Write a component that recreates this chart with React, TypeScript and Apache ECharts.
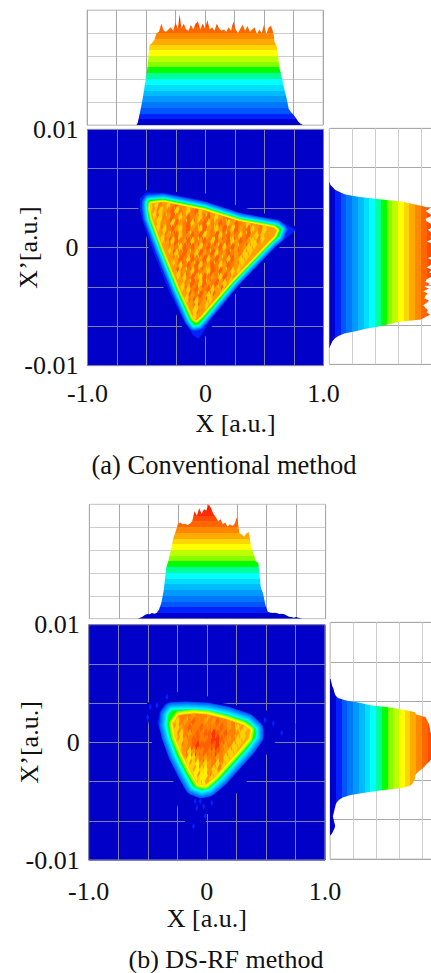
import React, { useEffect, useRef } from "react";
import * as echarts from "echarts";

const FONT = '"Liberation Serif"';
const HEAT_BG = "#0000c8";

const bandColors = ["#0000cc","#0022ff","#0055ff","#0077ff","#0099ff","#00bbff","#00ddff","#00ffff","#00ff99","#00ff00","#88ff00","#bbff00","#ffff00","#ffd500","#ffaa00","#ff8800","#ff6600","#ff4c00","#ff2a00","#ff1a00"];

const xTickValues = [-1, 0, 1];
const xTickLabels = ["-1.0", "0", "1.0"];
const yTickValues = [-0.01, 0, 0.01];
const yTickLabels = ["-0.01", "0", "0.01"];

// Top histogram, panel (a): [X, count %]
const histTopA = [[-0.58,0],[-0.57,2],[-0.55,11.6],[-0.53,21.7],[-0.51,34.8],[-0.49,48],[-0.47,69.6],[-0.45,71],[-0.43,74],[-0.41,80],[-0.39,81],[-0.37,88],[-0.35,82],[-0.33,81],[-0.31,83],[-0.29,85],[-0.27,82],[-0.25,89],[-0.23,84],[-0.215,96],[-0.2,84],[-0.18,88],[-0.16,83],[-0.14,82],[-0.12,87],[-0.1,83],[-0.08,88],[-0.06,90],[-0.04,83],[-0.02,88],[0,84],[0.02,91],[0.04,83],[0.06,85],[0.08,82],[0.1,88],[0.12,84],[0.14,82],[0.16,83],[0.18,81],[0.2,85],[0.22,82],[0.24,90],[0.26,83],[0.28,80],[0.3,84],[0.32,87],[0.34,82],[0.36,86],[0.38,81],[0.4,83],[0.42,85],[0.44,79],[0.46,83],[0.48,80],[0.5,87],[0.52,79],[0.54,85],[0.56,86],[0.58,80],[0.59,72],[0.61,68],[0.63,50],[0.65,42],[0.67,32],[0.69,24],[0.71,14],[0.73,11],[0.75,9],[0.77,6],[0.79,3],[0.81,1],[0.83,0]];

// Top histogram, panel (b)
const histTopB = [[-0.59,0],[-0.57,0.8],[-0.55,1.7],[-0.53,3.2],[-0.51,4],[-0.49,3.8],[-0.47,5],[-0.45,4.4],[-0.43,5],[-0.41,8],[-0.39,14],[-0.37,25],[-0.35,44],[-0.33,51],[-0.31,60],[-0.29,70],[-0.27,76],[-0.25,83],[-0.23,84],[-0.21,82.5],[-0.19,83],[-0.17,82],[-0.15,83],[-0.13,85],[-0.11,94],[-0.09,90],[-0.07,96.5],[-0.05,91.5],[-0.03,95.6],[-0.01,94.5],[0.01,100],[0.03,96.5],[0.05,91.5],[0.07,89],[0.09,85],[0.11,87],[0.13,82.5],[0.15,84],[0.17,80.5],[0.19,82.5],[0.21,81],[0.23,83],[0.25,89],[0.27,75],[0.29,73.7],[0.31,71.7],[0.33,74.6],[0.35,75.5],[0.37,62],[0.39,57],[0.41,50],[0.43,49],[0.45,28],[0.47,22],[0.49,12],[0.51,6],[0.53,5.5],[0.55,5],[0.57,5.2],[0.59,4.7],[0.61,4],[0.63,4.4],[0.65,3.8],[0.67,2.9],[0.69,1.7],[0.71,1.5],[0.73,0.9],[0.75,1.5],[0.77,0.9],[0.79,0.3],[0.8,0]];

// Right histograms: rows 0 (X' = +0.01) to 100 (X' = -0.01), first row then values
const rightARowStart = 23;
const histRightA = [0.5,1,3,5,9,14,25,42,63,72,82,88,84,87,90,85,84,87,91,90,86,89,92,88,90,85,91,92,89,90,93,91,86,90,92,88,85,90,87,91,89,85,84,88,83,87,82,86,84,83,87,85,82,84,86,85,88,84,80,62,52,43,31,23,13,8,5,3,2,1,0.3];
const rightBRowStart = 24;
const histRightB = [0.5,1,1.5,2,3,3.5,4,5,7,14,26,35,53,65,74,75,83,84,85,86,86.5,87,87,88,89,90,91,90,92,91,90,92,91,89,88,86,84,82,80,77,75,74,74,73,72,70,63,45,30,18,11,8,6,5,4.5,4,3.5,3,2.5,3,3.5,4,4.5,4,3,2,0.5];

// Contours of the phase-space density: [X, X']
const maskA = [[-0.525,0.00486],[-0.246,0.00469],[0,0.00458],[0.254,0.00359],[0.5,0.00288],[0.774,0.00175],[0.633,0.00006],[0.294,-0.00339],[0.054,-0.00667],[-0.003,-0.00757],[-0.073,-0.00785],[-0.201,-0.00667],[-0.356,-0.00339],[-0.483,-0.00003],[-0.497,0.00076],[-0.568,0.00331]];
const hullA = [[-0.503,0.00466],[-0.356,0.00463],[-0.017,0.00395],[0.294,0.00288],[0.605,0.00232],[0.768,0.00153],[0.718,0.00105],[0.605,0.0002],[0.294,-0.00305],[0.04,-0.00616],[-0.031,-0.00734],[-0.059,-0.00771],[-0.102,-0.00743],[-0.186,-0.00616],[-0.299,-0.0039],[-0.441,-0.00037],[-0.54,0.00246],[-0.559,0.00345],[-0.554,0.00415]];
const edgeA = [[-0.48,0.00401],[-0.356,0.0041],[-0.017,0.00342],[0.294,0.00243],[0.605,0.00186],[0.644,0.00153],[0.619,0.0009],[0.562,0.00042],[0.243,-0.00291],[-0.023,-0.0061],[-0.059,-0.0065],[-0.096,-0.00658],[-0.13,-0.00616],[-0.243,-0.00362],[-0.379,-0.00023],[-0.48,0.00246],[-0.492,0.00331],[-0.492,0.00379]];
const innerA = [[-0.463,0.00373],[-0.356,0.00384],[-0.017,0.00316],[0.294,0.0022],[0.576,0.00169],[0.605,0.00147],[0.582,0.00096],[0.534,0.00048],[0.223,-0.00277],[-0.04,-0.00582],[-0.079,-0.00616],[-0.102,-0.00602],[-0.22,-0.00347],[-0.356,-0.00014],[-0.452,0.00246],[-0.469,0.00331]];

const maskB = [[-0.507,0.00335],[-0.248,0.00428],[0,0.00394],[0.127,0.00335],[0.251,0.00315],[0.501,0.00273],[0.749,0.00161],[0.749,0.0011],[0.577,0],[0.493,-0.00121],[0.338,-0.00332],[0.254,-0.00431],[0.042,-0.006],[-0.008,-0.00611],[-0.008,-0.00679],[-0.183,-0.00679],[-0.248,-0.00552],[-0.282,-0.00332],[-0.465,0],[-0.501,0.00211]];
const hullB = [[-0.352,0.0033],[-0.197,0.00349],[0,0.00335],[0.197,0.00301],[0.38,0.00217],[0.473,0.00118],[0.451,0.00034],[0.366,-0.00107],[0.254,-0.00234],[0.141,-0.00361],[0.028,-0.00459],[-0.056,-0.00473],[-0.141,-0.00445],[-0.211,-0.00332],[-0.296,-0.00163],[-0.38,0.00048],[-0.417,0.00161],[-0.4,0.00259]];
const edgeB = [[-0.296,0.00268],[-0.169,0.00273],[0,0.00265],[0.169,0.00231],[0.338,0.00175],[0.408,0.0011],[0.408,0.00048],[0.338,-0.00051],[0.225,-0.00177],[0.113,-0.00304],[0.014,-0.00389],[-0.042,-0.00403],[-0.113,-0.00375],[-0.169,-0.00276],[-0.254,-0.00107],[-0.31,0.00048],[-0.332,0.00146],[-0.324,0.00231]];
const innerB = [[-0.239,0.00231],[-0.113,0.00245],[0,0.00237],[0.169,0.00194],[0.31,0.00146],[0.366,0.00104],[0.352,0.00034],[0.282,-0.00051],[0.169,-0.00177],[0.07,-0.0029],[-0.014,-0.00361],[-0.07,-0.00352],[-0.141,-0.00234],[-0.211,-0.00093],[-0.268,0.00048],[-0.287,0.00161]];

const speckleB = [[-0.338,0.00386],[-0.479,0.00301],[-0.423,0.00315],[0.493,0.00189],[0.563,0.00161],[0.634,0.00082],[-0.085,-0.00558],[-0.028,-0.00544],[0.042,-0.00515],[-0.014,-0.00628],[-0.113,-0.00713],[-0.056,-0.00501],[-0.501,0.00211],[-0.099,-0.00501]];

// Mottling inside the density: one letter per site, '.' = none
const mottleColors: Record<string, string> = { a: "#ff3300", b: "#ff6000", c: "#ff8000", d: "#ff9900", e: "#ffd000", f: "#ffee00" };
const mottleA = [
  ".e",
  ".edcedcde",
  "..ecdecbdcedcdce",
  "...edcbecdecbedcdecde",
  "...ecdbcedbcdecbdedcbcecde",
  "....dcebdcbedcbecdbcedbcdecdce",
  "....ecbdecbdcebdcedbcebdcbedce",
  ".....dcbecdbcbedcbecbdcecbde",
  "......ebcdbecdbcebdcbedbcde",
  "......dcebcbdecbcdbecbdcde",
  ".......ecbdcebdcbecdbcdce",
  ".......dbcebcdbecbdcebde",
  "........ecbdbecdbcedbcd",
  ".........dcebcdebcbdce",
  ".........ecbdebcdcebd",
  "..........dbcebdcbde",
  "..........ecbdcbed",
  "...........dcbde",
  "............ecd",
  "............ed",
];
const mottleB = [
  ".....ecc",
  ".edcedcdcecdcd",
  "edcccdcccdccdcdced",
  ".ecdcbccdcdbccdcdee",
  ".edcbccbccccbcdcede",
  "..ecdcbcbbabcbccde",
  "..edcbbccbaabcdce",
  "...dcbabbbbacdce",
  "....edccbccbcde",
  "....fedcdccdce",
  ".....efdedce",
  "......fefde",
  ".......ff",
];

const rowCategories = Array.from({ length: 101 }, (_, i) => String(i));

type Spot = { points: number[][]; fill: string };
type Layer = { points?: number[][]; fill?: string; stroke?: string; width?: number; spots?: Spot[]; clip?: number[][] };

function mottleSpots(rows: string[], x0: number, y0: number) {
  const spots: Spot[] = [];
  rows.forEach((row, r) => {
    row.split("").forEach((ch, c) => {
      if (ch === ".") return;
      const x = x0 + c * 0.0339;
      const y = y0 - r * 0.000508;
      spots.push({
        fill: mottleColors[ch],
        points: [[x + 0.006, y + 0.00048], [x + 0.019, y], [x - 0.006, y - 0.00048], [x - 0.019, y]],
      });
    });
  });
  return spots;
}

function buildLayers(mask: number[][], hull: number[][], edge: number[][], inner: number[][], outerRings: number[], innerRings: number[], base: string, rows: string[], x0: number, y0: number, speckle: number[][]) {
  const layers: Layer[] = [];
  layers.push({ points: mask, fill: HEAT_BG });
  layers.push({ points: hull, fill: bandColors[1] });
  outerRings.forEach((w, i) => layers.push({ points: edge, fill: "none", stroke: bandColors[i + 2], width: w }));
  layers.push({ points: edge, fill: bandColors[9] });
  innerRings.forEach((w, i) => layers.push({ points: inner, fill: "none", stroke: bandColors[i + 10], width: w }));
  layers.push({ points: inner, fill: base });
  const spots = [...mottleSpots(rows, x0, y0), ...mottleSpots(rows.slice(2), x0 + 0.017, y0 - 0.00025)];
  layers.push({ spots, clip: inner });
  speckle.forEach(([x, y]) =>
    layers.push({ points: [[x, y + 0.0003], [x + 0.012, y], [x, y - 0.0003], [x - 0.012, y]], fill: bandColors[1] })
  );
  return layers;
}

const layersA = buildLayers(maskA, hullA, edgeA, innerA, [11, 9.6, 8, 6.4, 4.8, 3.2, 1.6], [5, 3.8, 2.6, 1.3], "#ffa000", mottleA, -0.5, 0.0038, []);
const layersB = buildLayers(maskB, hullB, edgeB, innerB, [17, 15, 12.5, 10, 7.5, 5, 2.5], [8, 6, 4, 2], "#ffaa00", mottleB, -0.3, 0.0025, speckleB);

function heatSeries(idx: number, layers: Layer[]) {
  return {
    type: "custom",
    xAxisIndex: idx,
    yAxisIndex: idx,
    silent: true,
    clip: true,
    encode: { x: 0, y: 1 },
    data: layers.map(() => [0, 0]),
    renderItem: (params: any, api: any) => {
      const l = layers[params.dataIndex];
      if (l.spots) {
        return {
          type: "group",
          clipPath: { type: "polygon", shape: { points: l.clip!.map((p) => api.coord(p)) } },
          children: l.spots.map((s) => ({
            type: "polygon",
            shape: { points: s.points.map((p) => api.coord(p)) },
            style: { fill: s.fill },
          })),
        };
      }
      return {
        type: "polygon",
        shape: { points: l.points!.map((p) => api.coord(p)) },
        style: { fill: l.fill, stroke: l.stroke || null, lineWidth: l.width || 0, lineJoin: "round" },
      };
    },
  };
}

const histStyle = { showSymbol: false, symbol: "none", lineStyle: { width: 0 }, areaStyle: { opacity: 1 }, silent: true };
const pieces = bandColors.map((color, i) => ({ gte: i * 5, lt: (i + 1) * 5 + (i === 19 ? 1 : 0), color }));

const hiddenAxis = { axisLine: { show: false }, axisTick: { show: false }, axisLabel: { show: false } };
const lineStrong = { show: true, lineStyle: { color: "#a8a8a8", width: 1 } };
const lineSoft = { show: true, lineStyle: { color: "#cdcdcd", width: 1 } };
const lineHeat = { show: true, lineStyle: { color: "#8080a8", width: 1 } };

function xPhase(gridIndex: number, heat: boolean, name?: string, pad?: number, margin?: number) {
  return {
    type: "value", gridIndex, min: -1, max: 1, interval: 0.25,
    splitLine: heat ? lineHeat : lineStrong,
    axisLine: { show: false }, axisTick: { show: false },
    axisLabel: heat
      ? { show: true, customValues: xTickValues, margin, fontFamily: FONT, fontSize: 26, color: "#111", formatter: (v: number) => xTickLabels[xTickValues.indexOf(v)], hideOverlap: false, showMinLabel: true, showMaxLabel: true }
      : { show: false },
    name, nameLocation: "middle", nameGap: 45, nameMoveOverlap: false,
    nameTextStyle: { fontFamily: FONT, fontSize: 26, color: "#111", padding: [0, 0, 0, pad || 0] },
  };
}
function yPhase(gridIndex: number) {
  return {
    type: "value", gridIndex, min: -0.01, max: 0.01, interval: 0.01 / 3,
    splitLine: lineHeat, axisLine: { show: false }, axisTick: { show: false },
    axisLabel: { show: true, customValues: yTickValues, margin: 9, fontFamily: FONT, fontSize: 26, color: "#111", formatter: (v: number) => yTickLabels[yTickValues.findIndex((t) => Math.abs(t - v) < 1e-6)], hideOverlap: false, showMinLabel: true, showMaxLabel: true },
    name: "X’[a.u.]", nameLocation: "middle", nameGap: 46, nameMoveOverlap: false,
    nameTextStyle: { fontFamily: FONT, fontSize: 26, color: "#111" },
  };
}
const yCount = (gridIndex: number) => ({ type: "value", gridIndex, min: 0, max: 100, interval: 20, splitLine: lineSoft, ...hiddenAxis });
const xCount = (gridIndex: number) => ({ type: "value", gridIndex, min: 0, max: 100, interval: 20, splitLine: lineSoft, ...hiddenAxis });
const yRows = (gridIndex: number) => ({ type: "category", gridIndex, data: rowCategories, inverse: true, boundaryGap: false, splitLine: { show: false }, position: "left", ...hiddenAxis });
const yRules = (gridIndex: number) => ({ type: "value", gridIndex, min: 0, max: 6, interval: 1, position: "right", splitLine: lineStrong, ...hiddenAxis });

const gridBase = { show: true, outerBoundsMode: "none", containLabel: false };

const option: any = {
  animation: false,
  backgroundColor: "#ffffff",
  title: [
    { text: "(a) Conventional method", left: 224, top: 451, textAlign: "center", padding: 0, textStyle: { fontFamily: FONT, fontSize: 26.5, fontWeight: "normal", color: "#111" } },
    { text: "(b) DS-RF method", left: 226, top: 946, textAlign: "center", padding: 0, textStyle: { fontFamily: FONT, fontSize: 26, fontWeight: "normal", color: "#111" } },
  ],
  grid: [
    { ...gridBase, left: 87, top: 10, width: 236, height: 115, borderColor: "#c4c4c4", borderWidth: 1 },
    { ...gridBase, left: 87.5, top: 129.3, width: 236, height: 236.4, backgroundColor: HEAT_BG, borderColor: "#9a9aa8", borderWidth: 1 },
    { ...gridBase, left: 329.3, top: 128.3, width: 114.5, height: 236, borderColor: "#c4c4c4", borderWidth: 1 },
    { ...gridBase, left: 89.3, top: 504.3, width: 236.4, height: 114.4, borderColor: "#c4c4c4", borderWidth: 1 },
    { ...gridBase, left: 88.7, top: 624.7, width: 236.3, height: 235.3, backgroundColor: HEAT_BG, borderColor: "#9a9aa8", borderWidth: 1 },
    { ...gridBase, left: 330, top: 622.3, width: 115, height: 236.7, borderColor: "#c4c4c4", borderWidth: 1 },
  ],
  xAxis: [
    xPhase(0, false),
    xPhase(1, true, "X [a.u.]", 60, 15),
    xCount(2),
    xPhase(3, false),
    xPhase(4, true, "X [a.u.]", 0, 18),
    xCount(5),
  ],
  yAxis: [
    yCount(0), yPhase(1), yRows(2), yCount(3), yPhase(4), yRows(5), yRules(2), yRules(5),
  ],
  visualMap: [
    { type: "piecewise", show: false, seriesIndex: 0, dimension: 1, pieces },
    { type: "piecewise", show: false, seriesIndex: 1, dimension: 0, pieces },
    { type: "piecewise", show: false, seriesIndex: 2, dimension: 1, pieces },
    { type: "piecewise", show: false, seriesIndex: 3, dimension: 0, pieces },
  ],
  series: [
    { type: "line", xAxisIndex: 0, yAxisIndex: 0, data: histTopA, ...histStyle },
    { type: "line", xAxisIndex: 2, yAxisIndex: 2, data: histRightA.map((v, i) => [v, i + rightARowStart]), ...histStyle },
    { type: "line", xAxisIndex: 3, yAxisIndex: 3, data: histTopB, ...histStyle },
    { type: "line", xAxisIndex: 5, yAxisIndex: 5, data: histRightB.map((v, i) => [v, i + rightBRowStart]), ...histStyle },
    heatSeries(1, layersA),
    heatSeries(4, layersB),
  ],
};

export default function App() {
  const ref = useRef<HTMLDivElement>(null);
  useEffect(() => {
    document.body.style.margin = "0";
    const chart = echarts.init(ref.current!, undefined, { renderer: "svg" });
    chart.setOption(option);
    return () => chart.dispose();
  }, []);
  return <div ref={ref} style={{ width: 431, height: 973 }} />;
}
